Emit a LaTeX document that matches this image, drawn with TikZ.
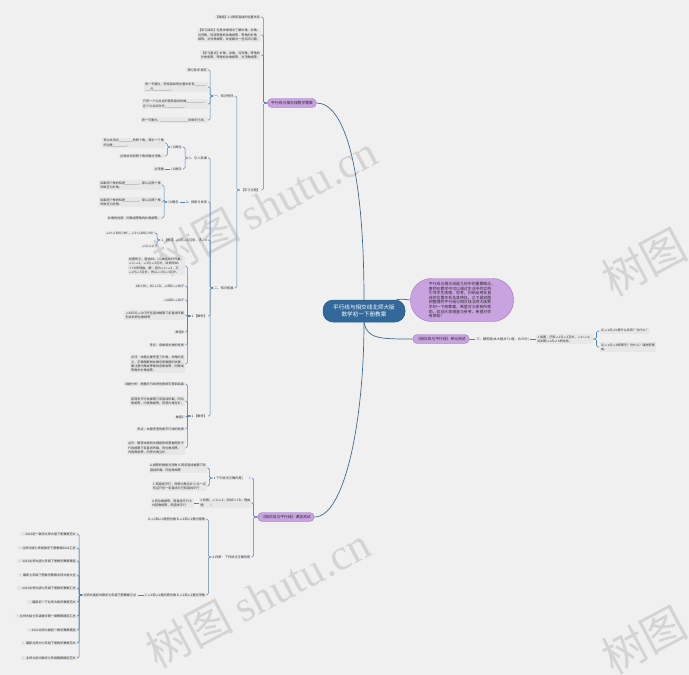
\documentclass[tikz,border=0pt]{standalone}
\usepackage{fontspec}
\newfontfamily\cjk{Noto Sans CJK SC}
\newfontfamily\wmfont{Liberation Serif}
\definecolor{bg}{HTML}{F0F0F0}
\definecolor{leafbg}{HTML}{E7E7E7}
\definecolor{txt}{HTML}{333333}
\definecolor{ptxt}{HTML}{2A2A2A}
\definecolor{br}{HTML}{5283B0}
\definecolor{mainln}{HTML}{3F6B8E}
\definecolor{cfill}{HTML}{33699A}
\definecolor{cdraw}{HTML}{2A5A85}
\definecolor{pfill}{HTML}{C9A3E0}
\definecolor{pdraw}{HTML}{9D6FC6}
\definecolor{wm}{HTML}{D4D4D4}
\tikzset{
  leaf/.style={font=\cjk\fontsize{3.1}{4.3}\selectfont, text=txt, fill=leafbg, inner xsep=1.2pt, inner ysep=1pt, align=left},
  sub/.style={font=\cjk\fontsize{3.2}{4.3}\selectfont, text=txt, inner xsep=1pt, inner ysep=1pt, align=left},
  purple/.style={font=\cjk\fontsize{3.8}{4.6}\selectfont, fill=pfill, draw=pdraw, line width=0.4pt, rounded corners=4.5pt, minimum height=9pt, inner xsep=3.5pt, inner ysep=1pt, text=ptxt},
  mainnode/.style={font=\cjk\fontsize{5.6}{7.6}\selectfont, fill=cfill, draw=cdraw, line width=0.5pt, text=white, rounded corners=10pt, minimum width=82pt, minimum height=22pt, align=center},
  bubble/.style={font=\cjk\fontsize{3.9}{4.6}\selectfont, fill=pfill, draw=pdraw, line width=0.4pt, rounded corners=21pt, minimum width=103pt, minimum height=43pt, align=left, text=ptxt},
  conn/.style={draw=br, line width=0.55pt, rounded corners=1.5pt},
  mconn/.style={draw=mainln, line width=0.7pt},
  wmark/.style={font=\fontsize{44}{44}\selectfont, text=wm, inner sep=0pt},
}
\begin{document}
\begin{tikzpicture}[x=1pt,y=-1pt]
\fill[bg] (0,0) rectangle (689,675);
\useasboundingbox (0,0) rectangle (689,675);

% watermarks
\node[wmark, rotate=28] (w1) at (265,205) {{\cjk 树图}\hspace{10pt}{\wmfont shutu.cn}};
\node[wmark, rotate=28] (w2) at (258,597) {{\cjk 树图}\hspace{10pt}{\wmfont shutu.cn}};
\node[wmark, rotate=28] (w3) at (644,262) {\cjk 树图};
\node[wmark, rotate=28] (w4) at (644,640) {\cjk 树图};

% main nodes
\node[mainnode] (C) at (364,311) {平行线与相交线北师大版\\数学初一下册教案};
\node[purple] (P1) at (292,103) {平行线与相交线教学教案};
\node[bubble] (E) at (462,300) {平行线与相交线是几何中的重要概念，\\教师在教学中可以通过生活中的实例\\引导学生观察、思考，归纳出两条直\\线的位置关系及其特征。以下是树图\\网整理的平行线与相交线北师大版数\\学初一下册教案，希望对大家有所帮\\助，欢迎大家借鉴与参考，希望对你\\有帮助！};
\node[purple] (P2) at (441,339) {《相交线与平行线》单元测试};
\node[purple] (P3) at (286,517) {《相交线与平行线》课堂测试};

\draw[mconn] (C.north) .. controls (364,170) and (345,103) .. (P1.east);
\draw[mconn] (C.south) .. controls (364,420) and (345,517) .. (P3.east);
\draw[mconn] ([xshift=-9pt]C.north east) .. controls (401,299) .. (E.west);
\draw[mconn] (C.south) .. controls (367,339) and (380,339) .. (P2.west);

% ---------- P1 branch ----------
\coordinate (P1c) at ([xshift=-6pt]P1.west);
\node[leaf,anchor=east] (K1) at (P1c |- 0,17) {【课题】2.1两条直线的位置关系};
\node[leaf,anchor=east] (K2) at (P1c |- 0,35) {【学习目标】在具体情境中了解补角、余角、\\对顶角，知道等角的余角相等、等角的补角\\相等、对顶角相等，并能解决一些实际问题。};
\node[leaf,anchor=east] (K3) at (P1c |- 0,55) {【学习重点】补角、余角、对顶角，等角的\\补角相等、等角的余角相等、对顶角相等。};
\node[sub,anchor=east] (G) at (P1c |- 0,190) {【学习过程】};
\foreach \n in {K1,K2,K3,G} \draw[conn] (P1.west) -- ++(-4,0) |- (\n.east);

\coordinate (Gc) at ([xshift=-5pt]G.west);
\node[sub,anchor=east] (A1) at (Gc |- 0,96) {一、知识预热};
\node[sub,anchor=east] (A3) at (Gc |- 0,288) {二、知识拓展};
\foreach \n in {A1,A3} \draw[conn] (G.west) -- ++(-3,0) |- (\n.east);

\coordinate (A1c) at ([xshift=-5pt]A1.west);
\node[leaf,anchor=east] (a1) at (A1c |- 0,70) {预习导学 探究};
\node[leaf,anchor=east] (a2) at (A1c |- 0,87) {同一平面内，两条直线的位置关系有\_\_\_\_\_\_\_\\\_\_\_与\_\_\_\_\_\_\_\_\_\_。};
\node[leaf,anchor=east] (a3) at (A1c |- 0,104) {只有一个公共点的两条直线叫做\_\_\_\_\_\_\_\_\_\_，\\这个公共点叫作\_\_\_\_\_\_\_\_\_\_\_。};
\node[leaf,anchor=east] (a4) at (A1c |- 0,120) {同一平面内，\_\_\_\_\_\_\_\_\_\_\_\_\_\_\_\_叫做平行线。};
\foreach \n in {a1,a2,a3,a4} \draw[conn] (A1.west) -- ++(-3,0) |- (\n.east);

\coordinate (A3c) at ([xshift=-5pt]A3.west);
\node[sub,anchor=east] (B1) at (A3c |- 0,158) {1、引入新课};
\node[sub,anchor=east] (B2) at (A3c |- 0,202) {2、探索与发现};
\node[sub,anchor=east] (B3) at (A3c |- 0,240) {1.【例1】∠α与∠β互余，求∠α};
\node[sub,anchor=east] (B4) at (A3c |- 0,316) {1.【解析】};
\node[sub,anchor=east] (B5) at (A3c |- 0,416) {2.【解析】};
\foreach \n in {B1,B2,B3,B4,B5} \draw[conn] (A3.west) -- ++(-3,0) |- (\n.east);

\coordinate (B1c) at ([xshift=-5pt]B1.west);
\node[sub,anchor=east] (C1) at (B1c |- 0,147) {(1)概念};
\node[sub,anchor=east] (C2) at (B1c |- 0,169) {(2)概念};
\foreach \n in {C1,C2} \draw[conn] (B1.west) -- ++(-3,0) |- (\n.east);

\coordinate (C1c) at ([xshift=-5pt]C1.west);
\node[leaf,anchor=east] (c11) at (C1c |- 0,143) {有公共顶点\_\_\_\_\_\_\_\_的两个角，其中一个角\\的边是\_\_\_\_\_\_\_\_。};
\node[leaf,anchor=east] (c12) at (C1c |- 0,156) {这种关系的两个角叫做对顶角。};
\foreach \n in {c11,c12} \draw[conn] (C1.west) -- ++(-3,0) |- (\n.east);

\coordinate (C2c) at ([xshift=-5pt]C2.west);
\node[leaf,anchor=east] (c21) at (C2c |- 0,169) {对顶角};
\draw[conn] (C2.west) -- (c21.east);

\coordinate (B2c) at ([xshift=-5pt]B2.west);
\node[sub,anchor=east] (C3) at (B2c |- 0,202) {(3)概念};
\draw[conn] (B2.west) -- (C3.east);

\coordinate (C3c) at ([xshift=-5pt]C3.west);
\node[leaf,anchor=east] (c31) at (C3c |- 0,185) {如果两个角的和是\_\_\_\_\_\_\_\_，那么这两个角\\叫做互为补角。};
\node[leaf,anchor=east] (c32) at (C3c |- 0,202) {如果两个角的和是\_\_\_\_\_\_\_\_，那么这两个角\\叫做互为余角。};
\node[leaf,anchor=east] (c33) at (C3c |- 0,218) {补角的性质：同角或等角的补角相等。};
\foreach \n in {c31,c32,c33} \draw[conn] (C3.west) -- ++(-3,0) |- (\n.east);

\coordinate (B3c) at ([xshift=-5pt]B3.west);
\node[leaf,anchor=east] (b31) at (B3c |- 0,233) {∠1+∠BOC=90°，∠2+∠BOC=90°};
\node[leaf,anchor=east] (b32) at (B3c |- 0,246) {∠1=∠2};
\foreach \n in {b31,b32} \draw[conn] (B3.west) -- ++(-3,0) |- (\n.east);

\coordinate (B4c) at ([xshift=-5pt]B4.west);
\node[leaf,anchor=east] (d1) at (B4c |- 0,266) {如图所示，直线AB、CD被直线EF所截，\\∠1=∠2，∠2与∠3互补，试说明AB\\∥CD的理由。解：因为∠1=∠2，又\\∠2与∠3互补，所以∠1与∠3互补。};
\node[leaf,anchor=east] (d2) at (B4c |- 0,286) {AB∥BC，BC⊥CD，∠EBC=∠BCF};
\node[leaf,anchor=east] (d3) at (B4c |- 0,300) {∠ABD=∠DCF};
\node[leaf,anchor=east] (d4) at (B4c |- 0,315) {∠ABD与∠DCF所在直线被第三条直线所截\\形成的同位角相等};
\node[leaf,anchor=east] (d5) at (B4c |- 0,332) {故选B};
\node[leaf,anchor=east] (d6) at (B4c |- 0,345) {考点：余角和补角的性质};
\node[leaf,anchor=east] (d7) at (B4c |- 0,364) {点评：本题主要考查了补角、余角的定\\义，正确理解相关概念是解题的关键，\\要注意同角或等角的余角相等，同角或\\等角的补角相等。};
\foreach \n in {d1,d2,d3,d4,d5,d6,d7} \draw[conn] (B4.west) -- ++(-3,0) |- (\n.east);

\coordinate (B5c) at ([xshift=-5pt]B5.west);
\node[leaf,anchor=east] (e1) at (B5c |- 0,384) {试题分析：根据平行线的性质即可得到结果};
\node[leaf,anchor=east] (e2) at (B5c |- 0,401) {若两条平行线被第三条直线所截，同位\\角相等，内错角相等，同旁内角互补。};
\node[leaf,anchor=east] (e3) at (B5c |- 0,417) {故选C};
\node[leaf,anchor=east] (e4) at (B5c |- 0,429) {考点：本题考查的是平行线的性质};
\node[leaf,anchor=east] (e5) at (B5c |- 0,448) {点评：解答本题的关键是熟练掌握两条平\\行线被第三条直线所截，同位角相等，\\内错角相等，同旁内角互补。};
\foreach \n in {e1,e2,e3,e4,e5} \draw[conn] (B5.west) -- ++(-3,0) |- (\n.east);

% ---------- P2 branch (right) ----------
\node[sub,anchor=west] (r1) at ([xshift=6pt]P2.east) {三、解答题(本大题共7小题，共35分)};
\draw[conn] (P2.east) -- (r1.west);
\node[leaf,anchor=west] (r2) at ([xshift=6pt]r1.east) {1.如图，已知∠1与∠2互补，∠3=∠4，\\试判断∠a与∠b的关系。};
\draw[conn] (r1.east) -- (r2.west);
\coordinate (r2c) at ([xshift=6pt]r2.east);
\node[leaf,anchor=west] (r3) at (r2c |- 0,331) {(1)∠a与∠b是什么关系？为什么？};
\node[leaf,anchor=west] (r4) at (r2c |- 0,347) {(2)∠a与∠3相等吗？为什么？请说明理\\由。};
\foreach \n in {r3,r4} \draw[conn] (r2.east) -- ++(3,0) |- (\n.west);

% ---------- P3 branch ----------
\coordinate (P3c) at ([xshift=-6pt]P3.west);
\node[sub,anchor=east] (F1) at (P3c |- 0,478) {1.下列说法正确的是(　　)};
\node[leaf,anchor=east] (F2) at (P3c |- 0,503) {2.如图，∠1=∠2，则AB∥CD，理由\\是(　　)};
\node[sub,anchor=east] (F3) at (P3c |- 0,557) {4.判断：下列说法正确的是};
\foreach \n in {F1,F2,F3} \draw[conn] (P3.west) -- ++(-4,0) |- (\n.east);

\coordinate (F1c) at ([xshift=-5pt]F1.west);
\node[leaf,anchor=east] (f11) at (F1c |- 0,468) {A.相等的角是对顶角 B.两条直线被第三条\\直线所截，同位角相等};
\node[leaf,anchor=east] (f12) at (F1c |- 0,486) {C.两直线平行，同旁内角互补 D.过一点\\有且只有一条直线与已知直线平行};
\foreach \n in {f11,f12} \draw[conn] (F1.west) -- ++(-3,0) |- (\n.east);

\coordinate (F2c) at ([xshift=-5pt]F2.west);
\node[leaf,anchor=east] (f21) at (F2c |- 0,503) {A.同位角相等，两直线平行 B.\\内错角相等，两直线平行};
\draw[conn] (F2.west) -- (f21.east);

\coordinate (F3c) at ([xshift=-5pt]F3.west);
\node[leaf,anchor=east] (f31) at (F3c |- 0,519) {A.∠1和∠2是同位角 B.∠1和∠2是内错角};
\node[leaf,anchor=east] (f32) at (F3c |- 0,595) {C.∠1和∠2是同旁内角 D.∠1和∠2是对顶角};
\foreach \n in {f31,f32} \draw[conn] (F3.west) -- ++(-3,0) |- (\n.east);

\coordinate (f32c) at ([xshift=-6pt]f32.west);
\node[leaf,anchor=east] (H) at (f32c |- 0,595) {北师大版初中数学七年级下册教案汇总};
\draw[conn] (f32.west) -- (H.east);

\coordinate (Hc) at ([xshift=-5pt]H.west);
\foreach \i/\yy/\t in {1/534/{2021初一数学北师大版下册教案范文},
  2/548/{北师大版七年级数学下册教案2021汇总},
  3/561/{2021北师大版七年级下册数学教案精选},
  4/575/{最新七年级下册数学教案北师大版大全},
  5/588/{2021北师大版七年级下册数学教案汇总},
  6/602/{最新初一下北师大数学教案范文},
  7/616/{北师大版七年级数学第一章教案精选汇总},
  8/630/{2021北师大版初一数学教案精选},
  9/643/{最新北师大七年级下册数学教案范文},
  10/658/{北师大初中数学七年级教案精选范文}}{
  \node[leaf,anchor=east] (L\i) at (Hc |- 0,\yy) {• \t};
  \draw[conn] (H.west) -- ++(-3,0) |- (L\i.east);
}
\end{tikzpicture}
\end{document}
